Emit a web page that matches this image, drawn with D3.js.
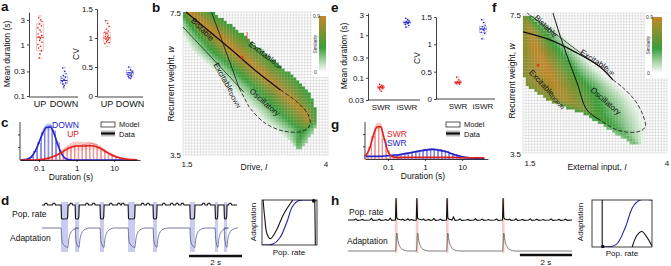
<!DOCTYPE html>
<html><head><meta charset="utf-8">
<script src="https://cdn.jsdelivr.net/npm/d3@7/dist/d3.min.js"></script>
<style>
body{margin:0;background:#fff;}
svg{display:block;font-family:"Liberation Sans",Arial,Helvetica,sans-serif;}
</style></head><body>
<svg id="fig" width="671" height="266"></svg>
<script>
// ================= DATA =================
const catsA = ["UP","DOWN"];
const catsE = ["SWR","iSWR"];
const meanTicksA = [0.1,0.3,1,3];
const meanTicksE = [0.03,0.1,0.3,1,3];
const cvTicks = [0,0.5,1,1.5];
const histTicks = [0.1,1,10];

// panel a (box stats: lo, q1, median, q3, hi)
const aMeanUp   = [3.3,3.0,2.8,2.5,2.3,2.1,1.9,1.75,1.6,1.5,1.4,1.3,1.2,1.1,1.0,0.92,0.85,0.75,0.65,0.55];
const aMeanDown = [0.35,0.3,0.27,0.25,0.23,0.22,0.21,0.2,0.19,0.18,0.17,0.16,0.15];
const aCvUp     = [1.3,1.25,1.2,1.15,1.12,1.1,1.08,1.05,1.03,1.0,0.98,0.96,0.94,0.92,0.9,1.02,1.07,0.97];
const aCvDown   = [0.5,0.45,0.42,0.4,0.38,0.37,0.36,0.35,0.34,0.33,0.32,0.3];
const aMeanUpBox   = [0.53,0.77,1.38,2.5,3.6];
const aMeanDownBox = [0.137,0.172,0.2,0.237,0.356];
const aCvUpBox     = [0.85,0.92,1.0,1.1,1.3];
const aCvDownBox   = [0.3,0.36,0.4,0.44,0.5];
const jitter = [-2,1,3,-1,2,-3,0,1.5,-2.5,2.5,-1.5,0.5,-0.5,3,-3,1,-2,2,0,-1];

// panel e
const eMeanSwr  = [0.07,0.066,0.064,0.062,0.061,0.06,0.059,0.058,0.057,0.055,0.052,0.048];
const eMeanIswr = [2.5,2.3,2.2,2.1,2.05,2.0,1.95,1.9,1.8,1.7,1.55];
const eCvSwr    = [0.4,0.35,0.33,0.32,0.31,0.3,0.3,0.29,0.28,0.27];
const eCvIswr   = [1.45,1.4,1.35,1.32,1.3,1.28,1.27,1.25,1.22,1.2,1.1];
const eMeanSwrBox  = [0.048,0.056,0.06,0.064,0.07];
const eMeanIswrBox = [1.55,1.85,2.0,2.15,2.5];
const eCvSwrBox    = [0.26,0.29,0.3,0.32,0.4];
const eCvIswrBox   = [1.1,1.22,1.28,1.33,1.45];

// panel c histograms (log bins, normalised density)
const cBins = [0.032,0.04,0.05,0.063,0.079,0.1,0.126,0.158,0.2,0.251,0.316,0.398,0.501,0.631,0.794,1,1.26,1.58,2,2.51,3.16,3.98,5.01,6.31,7.94,10,12.6,15.8,20,25.1,31.6,39.8];
const cDownModel = [0,0,0.02,0.08,0.25,0.5,0.8,0.95,1.0,0.85,0.5,0.2,0.06,0.02,0,0,0,0,0,0,0,0,0,0,0,0,0,0,0,0,0,0];
const cDownData  = [0,0.01,0.03,0.1,0.26,0.52,0.8,0.96,0.97,0.78,0.45,0.18,0.05,0.01,0,0,0,0,0,0,0,0,0,0,0,0,0,0,0,0,0,0];
const cDownErr   = [0,0,0.02,0.04,0.06,0.08,0.1,0.1,0.1,0.08,0.06,0.04,0.02,0.01,0,0,0,0,0,0,0,0,0,0,0,0,0,0,0,0,0,0];
const cUpModel   = [0,0,0,0,0,0.01,0.02,0.04,0.07,0.11,0.16,0.23,0.3,0.36,0.41,0.43,0.43,0.45,0.47,0.48,0.45,0.38,0.3,0.22,0.16,0.11,0.07,0.05,0.03,0.02,0.01,0.005];
const cUpData    = [0,0,0,0,0,0.01,0.02,0.04,0.07,0.11,0.16,0.22,0.29,0.35,0.39,0.41,0.41,0.41,0.42,0.42,0.4,0.36,0.3,0.23,0.17,0.12,0.08,0.05,0.03,0.02,0.01,0.005];
const cUpErr     = [0,0,0,0,0,0.01,0.02,0.03,0.04,0.05,0.06,0.08,0.1,0.12,0.13,0.13,0.13,0.12,0.12,0.11,0.1,0.08,0.07,0.06,0.05,0.04,0.03,0.02,0.02,0.01,0.01,0];

// panel g histograms
const gBins = [0.025,0.032,0.04,0.05,0.063,0.079,0.1,0.126,0.158,0.2,0.251,0.316,0.398,0.501,0.631,0.794,1,1.26,1.58,2,2.51,3.16,3.98,5.01,6.31,7.94,10,12.6,15.8,20,25.1,31.6,39.8];
const gSwrModel  = [0.12,0.35,0.68,0.92,0.95,0.6,0.25,0.08,0.04,0.02,0,0,0,0,0,0,0,0,0,0,0,0,0,0,0,0,0,0,0,0,0,0,0];
const gSwrData   = [0.1,0.32,0.7,0.97,0.98,0.62,0.22,0.08,0.05,0.05,0.05,0.05,0.05,0.05,0.05,0.05,0.05,0.05,0.05,0.05,0.05,0.05,0.05,0.05,0.05,0.04,0.04,0.04,0.04,0.04,0.04,0.04,0.04];
const gSwrErr    = [0.04,0.08,0.12,0.12,0.12,0.1,0.06,0.03,0.02,0.01,0.01,0.01,0.01,0.01,0.01,0.01,0.01,0.01,0.01,0.01,0.01,0.01,0.01,0.01,0.01,0.01,0.01,0.01,0.01,0.01,0.01,0.01,0.01];
const gIswrModel = [0,0,0,0,0,0,0.02,0.05,0.08,0.1,0.13,0.15,0.18,0.2,0.23,0.26,0.28,0.3,0.31,0.3,0.28,0.25,0.22,0.17,0.12,0.08,0.05,0.03,0.02,0.01,0.005,0,0];
const gIswrData  = [0.08,0.08,0.08,0.08,0.08,0.09,0.1,0.11,0.12,0.13,0.15,0.17,0.19,0.21,0.23,0.25,0.27,0.28,0.29,0.28,0.26,0.24,0.21,0.17,0.13,0.1,0.07,0.05,0.04,0.03,0.02,0.02,0.01];
const gIswrErr   = [0.02,0.02,0.02,0.02,0.02,0.02,0.02,0.02,0.03,0.03,0.03,0.03,0.03,0.03,0.04,0.04,0.04,0.04,0.04,0.04,0.04,0.04,0.03,0.03,0.03,0.03,0.02,0.02,0.02,0.02,0.02,0.02,0.02];

// panel b heat-map band (per row w: left edge, peak, right edge, peak level)
const bRowW   = [7.5,7.0,6.44,5.88,5.32,4.76,4.48,4.20,3.92,3.70];
const bLeftI  = [1.35,1.4,1.58,1.96,2.30,2.64,2.79,3.03,3.27,3.42];
const bPeakI  = [1.585,1.96,2.37,2.78,3.18,3.56,3.69,3.57,3.49,3.49];
const bRightI = [1.99,2.44,2.84,3.27,3.66,3.80,3.81,3.76,3.66,3.56];
const bLevel  = [0.9,0.9,0.9,0.88,0.85,0.85,0.8,0.45,0.4,0.35];
// panel b boundaries (I, w)
const bThick     = [[1.55,7.5],[2.30,6.49],[2.78,5.82],[3.18,5.32]];
const bThickDash = [[3.18,5.32],[3.49,4.95],[3.66,4.62],[3.69,4.34],[3.57,4.17],[3.23,4.17],[2.89,4.42],[2.64,4.84]];
const bThin      = [[1.5,7.08],[2.55,5.26]];
const bSteep     = [[1.99,7.5],[2.23,6.44],[2.47,5.37]];
const bSteepDash = [[2.47,5.37],[2.64,4.84]];
const bMarker    = [2.52,6.23];
const bMarkerBar = [[2.605,6.94],[2.605,6.66]];

// panel f heat-map band
const fRowW   = [7.36,7.01,6.44,5.87,5.44,5.01,4.59,4.16,3.79];
const fLeftI  = [1.5,1.5,1.5,1.5,1.55,1.93,2.58,3.01,3.36];
const fPeakI  = [1.55,1.62,1.75,1.92,2.08,2.25,2.75,3.18,3.44];
const fRightI = [1.76,2.15,2.52,2.88,3.22,3.50,3.66,3.69,3.61];
const fLevel  = [0.7,0.85,0.9,0.9,0.85,0.8,0.5,0.35,0.3];
const fThick     = [[1.5,6.96],[1.97,6.73],[2.40,6.39],[2.84,5.96],[3.06,5.59]];
const fThickDash = [[3.06,5.59],[3.24,5.36],[3.44,5.01],[3.58,4.59],[3.62,4.24],[3.48,4.1],[3.13,4.16],[2.84,4.44]];
const fSteep     = [[2.02,7.5],[2.14,6.87],[2.26,6.3],[2.44,5.5],[2.61,4.73],[2.84,4.44]];
const fThin      = [[1.57,7.5],[2.14,6.81],[2.66,6.16],[2.84,5.96]];
const fMarker    = [1.76,6.01];

// panel d traces
const dDown = [[0.72,0.98],[1.25,1.40],[2.19,2.34],[3.25,3.51],[4.19,4.34],[5.58,5.77],[6.53,6.64],[6.87,6.98]];
const dBumps = [0.15,0.45,1.1,1.7,1.95,2.6,2.9,3.05,3.8,4.0,4.6,4.9,5.1,5.3,6.1,6.3,7.1];
const dNullBlack  = [[0.02,1],[0.05,0.6],[0.09,0.25],[0.15,0.14],[0.25,0.3],[0.4,0.7],[0.56,1]];
const dNullBlackR = [[0.96,1],[0.965,0.5],[0.97,0]];
const dNullBlue   = [[0,0],[0.2,0.02],[0.32,0.15],[0.45,0.5],[0.55,0.85],[0.65,0.98],[0.75,1],[1,1]];
const dFixed = [0.94,0.98];

// panel h traces
const hEvents = [1.85,2.65,3.81,5.96];
const hBumpT = [0.3,0.55,0.9,1.2,1.45,1.62,2.1,2.3,2.45,2.9,3.1,3.3,3.55,4.05,4.3,4.6,4.9,5.15,5.4,5.7,6.2,6.45,6.7,7.0,7.25,7.5,7.8,8.1,8.35];
const hBumpA = [0.05,0.03,0.08,0.04,0.02,0.09,0.04,0.06,0.03,0.05,0.03,0.07,0.04,0.14,0.05,0.03,0.06,0.04,0.02,0.05,0.04,0.06,0.03,0.05,0.04,0.02,0.05,0.03,0.04];
const hNullBlackL = [[0.17,1],[0.17,0]];
const hNullBlack  = [[0.67,0],[0.75,0.25],[0.83,0.33],[0.92,0.2],[1.0,0.02]];
const hNullBlue   = [[0.18,0],[0.4,0.05],[0.55,0.4],[0.68,0.85],[0.8,1.0],[1,1]];
const hFixed = [0.18,0.01];

// ================= DRAWING =================
const svg = d3.select("#fig");
svg.append("rect").attr("width",671).attr("height",266).attr("fill","#fff");
const RED="#e0221d", BLUE="#2424c8";

function T(x,y,s,size,opt={}){
  const t=svg.append("text").attr("x",x).attr("y",y).attr("font-size",size)
    .attr("text-anchor",opt.anchor||"start").attr("fill",opt.fill||"#111")
    .attr("font-weight",opt.weight||"normal").text(s);
  if(opt.rot!==undefined) t.attr("transform",`rotate(${opt.rot},${x},${y})`);
  return t;
}
function styleAxis(g){
  g.selectAll("path.domain").attr("stroke","#111").attr("stroke-width",0.8);
  g.selectAll(".tick line").attr("stroke","#111").attr("stroke-width",0.8);
  g.selectAll(".tick text").attr("font-size",8).attr("fill","#111").attr("font-family","Liberation Sans, Arial, sans-serif");
}
function yAxis(x, scale, ticks){
  const g=svg.append("g").attr("transform",`translate(${x},0)`)
   .call(d3.axisLeft(scale).tickValues(ticks).tickFormat(d=>String(d)).tickSize(2).tickSizeOuter(0).tickPadding(2));
  styleAxis(g); return g;
}
function xCats(y, scale, x0, x1, size){
  svg.append("line").attr("x1",x0).attr("x2",x1).attr("y1",y).attr("y2",y).attr("stroke","#111").attr("stroke-width",0.8);
  scale.domain().forEach(c=>{
    T(scale(c), y+10, c, size, {anchor:"middle"});
  });
}
function boxplot(x, y, stats, pts, colBox, colPt){
  const [lo,q1,md,q3,hi]=stats, bw=7, g=svg.append("g");
  g.append("line").attr("x1",x).attr("x2",x).attr("y1",y(hi)).attr("y2",y(q3)).attr("stroke",colBox).attr("stroke-width",0.6).attr("stroke-dasharray","1.5,1");
  g.append("line").attr("x1",x).attr("x2",x).attr("y1",y(q1)).attr("y2",y(lo)).attr("stroke",colBox).attr("stroke-width",0.6).attr("stroke-dasharray","1.5,1");
  [lo,hi].forEach(v=>g.append("line").attr("x1",x-2).attr("x2",x+2).attr("y1",y(v)).attr("y2",y(v)).attr("stroke",colBox).attr("stroke-width",0.6));
  g.append("rect").attr("x",x-bw/2).attr("y",y(q3)).attr("width",bw).attr("height",Math.max(0.5,y(q1)-y(q3)))
    .attr("fill","none").attr("stroke",colBox).attr("stroke-width",0.6);
  g.append("line").attr("x1",x-bw/2).attr("x2",x+bw/2).attr("y1",y(md)).attr("y2",y(md)).attr("stroke",colPt).attr("stroke-width",0.9);
  pts.forEach((v,i)=>g.append("circle").attr("cx",x+jitter[i%jitter.length]*0.7).attr("cy",y(v)).attr("r",0.8).attr("fill",colPt));
}

// ---- panel a ----
T(1,11,"a",13.5,{weight:"bold"});
const yA1=d3.scaleLog().domain([0.1,4.27]).range([96,12]);
yAxis(29,yA1,meanTicksA);
const xA1=d3.scalePoint().domain(catsA).range([40,64]);
xCats(97,xA1,29,78,9);
boxplot(xA1("UP"),yA1,aMeanUpBox,aMeanUp,"#eda0a0",RED);
boxplot(xA1("DOWN"),yA1,aMeanDownBox,aMeanDown,"#9fa2e8",BLUE);
T(10,54,"Mean duration (s)",8.5,{anchor:"middle",rot:-90});

const yA2=d3.scaleLinear().domain([0,1.5]).range([96,9]);
yAxis(97,yA2,cvTicks);
const xA2=d3.scalePoint().domain(catsA).range([107,130]);
xCats(97,xA2,97,143,9);
boxplot(xA2("UP"),yA2,aCvUpBox,aCvUp,"#eda0a0",RED);
boxplot(xA2("DOWN"),yA2,aCvDownBox,aCvDown,"#9fa2e8",BLUE);
T(79,54,"CV",8.5,{anchor:"middle",rot:-90});

// ---- panel e ----
T(331,12,"e",13.5,{weight:"bold"});
const yE1=d3.scaleLog().domain([0.03,3.34]).range([100,13]);
yAxis(368,yE1,meanTicksE);
const xE1=d3.scalePoint().domain(catsE).range([381,407]);
xCats(100,xE1,368,420,8);
boxplot(xE1("SWR"),yE1,eMeanSwrBox,eMeanSwr,"#eda0a0",RED);
boxplot(xE1("iSWR"),yE1,eMeanIswrBox,eMeanIswr,"#9fa2e8",BLUE);
T(347,56,"Mean duration (s)",8.5,{anchor:"middle",rot:-90});

const yE2=d3.scaleLinear().domain([0,1.5]).range([99,17]);
yAxis(436,yE2,cvTicks);
const xE2=d3.scalePoint().domain(catsE).range([458,483]);
xCats(99,xE2,436,495,8);
boxplot(xE2("SWR"),yE2,eCvSwrBox,eCvSwr,"#eda0a0",RED);
boxplot(xE2("iSWR"),yE2,eCvIswrBox,eCvIswr,"#9fa2e8",BLUE);
T(420,58,"CV",8.5,{anchor:"middle",rot:-90});

// ---- histograms c, g ----
function hist(x, y, bins, series){
  const g=svg.append("g");
  const half=Math.pow(10,0.04);
  series.forEach(s=>{
    const area=d3.area().x((d,i)=>x(bins[i])).y0((d,i)=>y(Math.max(0,d-s.err[i]))).y1((d,i)=>y(d+s.err[i])).curve(d3.curveMonotoneX);
    g.append("path").datum(s.data).attr("d",area).attr("fill",s.band).attr("opacity",0.75);
  });
  series.forEach(s=>{
    s.model.forEach((v,i)=>{ if(v<=0) return;
      g.append("rect").attr("x",x(bins[i]/half)).attr("width",x(bins[i]*half)-x(bins[i]/half))
       .attr("y",y(v)).attr("height",y(0)-y(v)).attr("fill","#fff").attr("fill-opacity",0.55)
       .attr("stroke",s.bar).attr("stroke-width",0.6);
    });
  });
  series.forEach(s=>{
    const line=d3.line().x((d,i)=>x(bins[i])).y(d=>y(d)).curve(d3.curveMonotoneX);
    g.append("path").datum(s.data).attr("d",line).attr("fill","none").attr("stroke",s.color).attr("stroke-width",1.6);
  });
}
function histAxes(x,y,x0,x1,yb,ytop){
  const g=svg.append("g").attr("transform",`translate(0,${yb})`)
    .call(d3.axisBottom(x).tickValues(histTicks).tickFormat(d=>String(d)).tickSize(2).tickSizeOuter(0).tickPadding(3));
  styleAxis(g);
  svg.append("line").attr("x1",x0).attr("x2",x0).attr("y1",ytop).attr("y2",yb).attr("stroke","#111").attr("stroke-width",0.8);
  [0.33,0.66].forEach(f=>svg.append("line").attr("x1",x0-2).attr("x2",x0).attr("y1",yb-(yb-ytop)*f).attr("y2",yb-(yb-ytop)*f).attr("stroke","#111").attr("stroke-width",0.8));
}
function legendMD(x,y){
  svg.append("rect").attr("x",x).attr("y",y-5).attr("width",14).attr("height",5).attr("fill","#fff").attr("stroke","#111").attr("stroke-width",0.7);
  T(x+18,y,"Model",7.5);
  svg.append("rect").attr("x",x).attr("y",y+3.5).attr("width",14).attr("height",6).attr("fill","#bdbdbd");
  svg.append("line").attr("x1",x).attr("x2",x+14).attr("y1",y+6.5).attr("y2",y+6.5).attr("stroke","#111").attr("stroke-width",2.2);
  T(x+18,y+9.5,"Data",7.5);
}
T(1,127,"c",13.5,{weight:"bold"});
const xC=d3.scaleLog().domain([0.031,49]).range([20,140]);
const yC=d3.scaleLinear().domain([0,1]).range([160,126]);
hist(xC,yC,cBins,[
  {data:cDownData,err:cDownErr,model:cDownModel,color:BLUE,band:"#aeb1f3",bar:"#4a4ad6"},
  {data:cUpData,err:cUpErr,model:cUpModel,color:RED,band:"#f7b4b0",bar:"#e56a66"}]);
histAxes(xC,yC,20,140,160,122);
T(71,180,"Duration (s)",8.5,{anchor:"middle"});
T(79,128,"DOWN",8.5,{anchor:"end",fill:BLUE});
T(79,137,"UP",8.5,{anchor:"end",fill:RED});
legendMD(101,127);

T(331,129,"g",13.5,{weight:"bold"});
const xG=d3.scaleLog().domain([0.024,50]).range([365,488]);
const yG=d3.scaleLinear().domain([0,1]).range([159,126]);
hist(xG,yG,gBins,[
  {data:gIswrData,err:gIswrErr,model:gIswrModel,color:BLUE,band:"#aeb1f3",bar:"#4a4ad6"},
  {data:gSwrData,err:gSwrErr,model:gSwrModel,color:RED,band:"#f7b4b0",bar:"#e56a66"}]);
histAxes(xG,yG,365,488,159,122);
T(423,179,"Duration (s)",8.5,{anchor:"middle"});
T(387,137,"SWR",8.5,{fill:RED});
T(385,146,"iSWR",8.5,{fill:BLUE});
legendMD(446,127);

// ---- heat maps b, f ----
const simColor=d3.scaleLinear().domain([0,0.4,0.9]).range(["#ffffff","#3a9e3a","#c4862a"]);
function heatmap(x0,x1,y0,y1,rows,mode,lines,labels,marker,cb){
  const xs=d3.scaleLinear().domain([1.5,4]).range([x0,x1]);
  const ys=d3.scaleLinear().domain([3.5,7.5]).range([y1,y0]);
  const nI=50,nW=48, g=svg.append("g");
  const dI=2.5/nI, dW=4/nW;
  for(let k=0;k<=nI;k++) g.append("line").attr("x1",xs(1.5+k*dI)).attr("x2",xs(1.5+k*dI)).attr("y1",y0).attr("y2",y1).attr("stroke","#c6c6c6").attr("stroke-width",0.45);
  for(let j=0;j<=nW;j++) g.append("line").attr("y1",ys(3.5+j*dW)).attr("y2",ys(3.5+j*dW)).attr("x1",x0).attr("x2",x1).attr("stroke","#c6c6c6").attr("stroke-width",0.45);
  const L=d3.scaleLinear().domain(rows.w).range(rows.left).clamp(true);
  const P=d3.scaleLinear().domain(rows.w).range(rows.peak).clamp(true);
  const R=d3.scaleLinear().domain(rows.w).range(rows.right).clamp(true);
  const V=d3.scaleLinear().domain(rows.w).range(rows.level).clamp(true);
  const wMax=d3.max(rows.w)+0.06, wMin=d3.min(rows.w)-0.06;
  for(let j=0;j<nW;j++){
    const wc=3.5+(j+0.5)*dW; if(wc>wMax||wc<wMin) continue;
    const l=L(wc),p=P(wc),r=R(wc),lev=V(wc);
    for(let k=0;k<nI;k++){
      const ic=1.5+(k+0.5)*dI; if(ic<l||ic>r) continue;
      let v;
      if(mode==="b"){ v = ic<=p ? lev*Math.pow((ic-l)/(p-l),1.2) : lev*(1-0.55*(ic-p)/(r-p)); }
      else { v = ic<=p ? lev*(0.75+0.25*(ic-l)/Math.max(1e-6,p-l)) : lev*Math.pow(1-(ic-p)/(r-p),1.2); }
      if(v<0.04) continue;
      g.append("rect").attr("x",xs(1.5+k*dI)).attr("y",ys(3.5+(j+1)*dW)).attr("width",xs(1.5+(k+1)*dI)-xs(1.5+k*dI)+0.15)
        .attr("height",ys(3.5+j*dW)-ys(3.5+(j+1)*dW)+0.15).attr("fill",simColor(v));
    }
  }
  const ln=d3.line().x(d=>xs(d[0])).y(d=>ys(d[1])).curve(d3.curveCatmullRom.alpha(0.5));
  lines.forEach(o=>g.append("path").datum(o.d).attr("d",ln).attr("fill","none").attr("stroke","#111")
     .attr("stroke-width",o.w).attr("stroke-dasharray",o.dash||null));
  if(marker.bar) g.append("line").attr("x1",xs(marker.bar[0][0])).attr("x2",xs(marker.bar[1][0])).attr("y1",ys(marker.bar[0][1])).attr("y2",ys(marker.bar[1][1])).attr("stroke","#e0401c").attr("stroke-width",0.8);
  g.append("circle").attr("cx",xs(marker.pt[0])).attr("cy",ys(marker.pt[1])).attr("r",1.4).attr("fill","#e0401c");
  labels.forEach(o=>{
    const t=g.append("text").attr("x",xs(o.p[0])).attr("y",ys(o.p[1])).attr("font-size",8).attr("fill","#111")
      .attr("text-anchor","middle").attr("dominant-baseline","central")
      .attr("transform",`rotate(${o.r},${xs(o.p[0])},${ys(o.p[1])})`);
    t.append("tspan").text(o.t);
    if(o.sub) t.append("tspan").attr("font-size",5.5).attr("dy",2).text(o.sub);
  });
  const cbx=cb.x, gid="grad"+mode;
  const defs=svg.append("defs"); const gr=defs.append("linearGradient").attr("id",gid).attr("x1",0).attr("x2",0).attr("y1",1).attr("y2",0);
  [[0,0],[0.44,0.4],[1,0.9]].forEach(s=>gr.append("stop").attr("offset",s[0]).attr("stop-color",simColor(s[1])));
  g.append("rect").attr("x",cbx).attr("y",y0).attr("width",x1-cbx+0.5).attr("height",65).attr("fill","#fff");
  g.append("rect").attr("x",cb.bx).attr("y",y0+4).attr("width",cb.bw).attr("height",56).attr("fill",`url(#${gid})`);
  g.append("text").attr("x",cbx+1).attr("y",y0+5.5).attr("font-size",5).attr("fill","#333").text("0.9");
  g.append("text").attr("x",cbx+2).attr("y",y0+62).attr("font-size",5).attr("fill","#333").text("0");
  g.append("text").attr("x",cbx+5).attr("y",y0+32).attr("font-size",4.5).attr("fill","#333").attr("text-anchor","middle")
    .attr("transform",`rotate(-90,${cbx+5},${y0+32})`).text("Similarity");
  return {xs,ys};
}
T(152,12,"b",13.5,{weight:"bold"});
heatmap(183,328,12,155,{w:bRowW,left:bLeftI,peak:bPeakI,right:bRightI,level:bLevel},"b",
  [{d:bThick,w:1.3},{d:bThickDash,w:0.8,dash:"4,2"},{d:bThin,w:0.7},{d:bSteep,w:0.8},{d:bSteepDash,w:0.8,dash:"4,2"}],
  [{p:[1.84,7.02],r:45,t:"Bistable"},{p:[2.93,6.30],r:37,t:"Excitable",sub:"UP"},
   {p:[2.28,5.46],r:60,t:"Excitable",sub:"DOWN"},{p:[2.91,4.98],r:42,t:"Oscillatory"}],
  {pt:bMarker,bar:bMarkerBar},{x:312,bx:319,bw:7});
T(181,16,"7.5",8,{anchor:"end"}); T(181,158,"3.5",8,{anchor:"end"});
T(187,167,"1.5",8,{anchor:"middle"}); T(326,167,"4",8,{anchor:"middle"});
const tb=T(254,170,"Drive, ",8.5,{anchor:"middle"}); tb.append("tspan").attr("font-style","italic").text("I");
const rb=T(174,84,"Recurrent weight, ",8.5,{anchor:"middle",rot:-90}); rb.append("tspan").attr("font-style","italic").text("w");

T(492,12,"f",13.5,{weight:"bold"});
heatmap(523,667,13,153,{w:fRowW,left:fLeftI,peak:fPeakI,right:fRightI,level:fLevel},"f",
  [{d:fThick,w:1.3},{d:fThickDash,w:0.8,dash:"4,2"},{d:fSteep,w:1.0},{d:fThin,w:0.7}],
  [{p:[1.90,7.13],r:44,t:"Bistable"},{p:[2.80,6.10],r:33,t:"Excitable",sub:"UP"},
   {p:[1.93,5.33],r:47,t:"Excitable",sub:"DOWN"},{p:[2.94,4.99],r:41,t:"Oscillatory"}],
  {pt:fMarker},{x:645,bx:652,bw:10});
T(521,18,"7.5",8,{anchor:"end"}); T(521,157,"3.5",8,{anchor:"end"});
T(530,166,"1.5",8,{anchor:"middle"}); T(667,166,"4",8,{anchor:"middle"});
const tf=T(597,170,"External input, ",8.5,{anchor:"middle"}); tf.append("tspan").attr("font-style","italic").text("I");
const rf=T(515,81,"Recurrent weight, ",8.5,{anchor:"middle",rot:-90}); rf.append("tspan").attr("font-style","italic").text("w");

// ---- panel d ----
T(1,205,"d",13.5,{weight:"bold"});
T(12,217,"Pop. rate",8.5); T(10,241,"Adaptation",8.5);
const xD=d3.scaleLinear().domain([0,7.36]).range([42,237]);
const yDR=d3.scaleLinear().domain([0,1]).range([219,205]);
const yDA=d3.scaleLinear().domain([0,1]).range([248,228]);
dDown.forEach(([s,e])=>svg.append("rect").attr("x",xD(s)).attr("width",xD(e)-xD(s)).attr("y",202).attr("height",50).attr("fill","#c9cbf0"));
{
  const pts=[[0,1]];
  const ev=[];
  dDown.forEach(([s,e])=>ev.push({t:s,type:"d",e}));
  dBumps.forEach(t=>ev.push({t,type:"b"}));
  ev.sort((a,b)=>a.t-b.t);
  ev.forEach(o=>{
    if(o.type==="b"){ pts.push([o.t-0.06,1],[o.t-0.03,1.13],[o.t+0.03,1.13],[o.t+0.06,1]); }
    else { pts.push([o.t,1],[o.t+0.015,0.05],[o.t+0.04,0],[o.e-0.03,0.02],[o.e-0.01,0.15],[o.e+0.005,1]); }
  });
  pts.push([7.36,1]);
  svg.append("path").datum(pts).attr("d",d3.line().x(d=>xD(d[0])).y(d=>yDR(d[1]))).attr("fill","none").attr("stroke","#111").attr("stroke-width",1.1);
  const ap=[[0,1]];
  dDown.forEach(([s,e])=>{ ap.push([s,1],[s+0.02,0.55],[s+0.05,0.25],[e,0.03],[e+0.03,0.4],[e+0.1,0.75],[e+0.22,0.93],[e+0.4,1]); });
  ap.push([7.36,1]);
  svg.append("path").datum(ap).attr("d",d3.line().x(d=>xD(d[0])).y(d=>yDA(d[1])).curve(d3.curveMonotoneX)).attr("fill","none").attr("stroke","#5a5c86").attr("stroke-width",0.8);
  svg.append("line").attr("x1",xD(5.55)).attr("x2",xD(7.55)).attr("y1",256).attr("y2",256).attr("stroke","#111").attr("stroke-width",2.6);
  T(xD(6.55),265,"2 s",8,{anchor:"middle"});
}
function phase(x0,y0,w,h,black,blue,dot){
  const xs=d3.scaleLinear().domain([0,1]).range([x0,x0+w]);
  const ys=d3.scaleLinear().domain([0,1]).range([y0+h,y0]);
  const id="clip"+x0;
  svg.append("clipPath").attr("id",id).append("rect").attr("x",x0).attr("y",y0).attr("width",w).attr("height",h);
  const g=svg.append("g").attr("clip-path",`url(#${id})`);
  const ln=d3.line().x(d=>xs(d[0])).y(d=>ys(d[1])).curve(d3.curveCatmullRom.alpha(0.5));
  g.append("path").datum(blue).attr("d",ln).attr("fill","none").attr("stroke","#2020a0").attr("stroke-width",1.1);
  black.forEach(b=>g.append("path").datum(b).attr("d",ln).attr("fill","none").attr("stroke","#111").attr("stroke-width",1.1));
  svg.append("rect").attr("x",x0).attr("y",y0).attr("width",w).attr("height",h).attr("fill","none").attr("stroke","#111").attr("stroke-width",0.8);
  svg.append("circle").attr("cx",xs(dot[0])).attr("cy",ys(dot[1])).attr("r",1.8).attr("fill","#111");
}
phase(262,200,55,45,[dNullBlack,dNullBlackR],dNullBlue,dFixed);
T(256,222,"Adaptation",8,{anchor:"middle",rot:-90});
T(289,255,"Pop. rate",8,{anchor:"middle"});

// ---- panel h ----
T(331,205,"h",13.5,{weight:"bold"});
T(349,215,"Pop. rate",8.5); T(347,244,"Adaptation",8.5);
const xH=d3.scaleLinear().domain([0,8.6]).range([348,572]);
const yHR=d3.scaleLinear().domain([0,1]).range([220,199]);
const yHA=d3.scaleLinear().domain([0,1]).range([251,233]);
hEvents.forEach(t=>svg.append("rect").attr("x",xH(t)-1.3).attr("width",2.6).attr("y",199).attr("height",54).attr("fill","#f6cdc9"));
{
  const ev=[];
  hEvents.forEach(t=>ev.push({t,type:"e"}));
  hBumpT.forEach((t,i)=>ev.push({t,type:"b",a:hBumpA[i]}));
  ev.sort((a,b)=>a.t-b.t);
  const pts=[[0,0]];
  ev.forEach(o=>{
    if(o.type==="b") pts.push([o.t-0.06,0],[o.t,o.a],[o.t+0.06,-0.015]);
    else pts.push([o.t-0.03,0],[o.t-0.005,1.05],[o.t+0.02,0.1],[o.t+0.06,0.05]);
  });
  pts.push([8.6,0]);
  svg.append("path").datum(pts).attr("d",d3.line().x(d=>xH(d[0])).y(d=>yHR(d[1]))).attr("fill","none").attr("stroke","#111").attr("stroke-width",1.1);
  const ap=[[0,0]];
  hEvents.forEach(t=>ap.push([t-0.02,0],[t+0.02,1],[t+0.07,0.55],[t+0.14,0.25],[t+0.25,0.08],[t+0.45,0]));
  ap.push([8.6,0]);
  svg.append("path").datum(ap).attr("d",d3.line().x(d=>xH(d[0])).y(d=>yHA(d[1])).curve(d3.curveMonotoneX)).attr("fill","none").attr("stroke","#5a5a5a").attr("stroke-width",0.8);
  svg.append("line").attr("x1",xH(6.6)).attr("x2",xH(8.6)).attr("y1",255).attr("y2",255).attr("stroke","#111").attr("stroke-width",2.6);
  T(xH(7.6),265,"2 s",8,{anchor:"middle"});
}
phase(592,200,60,47,[hNullBlackL,hNullBlack],hNullBlue,hFixed);
T(583,222,"Adaptation",8,{anchor:"middle",rot:-90});
T(622,256,"Pop. rate",8,{anchor:"middle"});
</script></body></html>
